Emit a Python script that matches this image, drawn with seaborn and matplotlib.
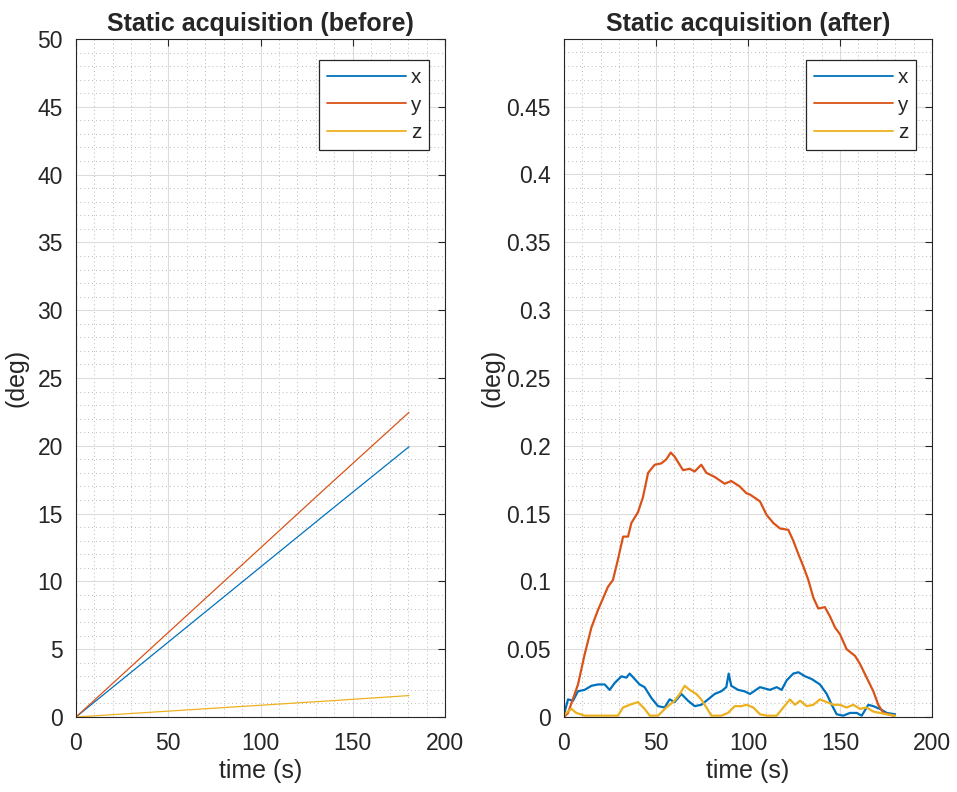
import numpy as np
import pandas as pd
import matplotlib
matplotlib.use("Agg")
import matplotlib.pyplot as plt
from matplotlib.ticker import MultipleLocator
import seaborn as sns

# ---------------- data ----------------
series_names = ["x", "y", "z"]
colors = ["#0072BD", "#D95319", "#EDB120"]

# before (linear drift)
before_t = [0, 45, 90, 135, 180.5]
before_x = [0, 4.97, 9.95, 14.93, 19.93]
before_y = [0, 5.61, 11.22, 16.84, 22.47]
before_z = [0, 0.39, 0.78, 1.17, 1.58]

# after (x)
after_x_t = [0, 0.4, 2.2, 4.9, 7.6, 11.2, 14.9, 18.5, 22.1, 24.8, 27.5, 31.2, 33.9, 35.7,
             38.4, 41.1, 43.8, 47.5, 51.1, 54.7, 57.4, 60.1, 63.8, 67.4, 71.0, 74.6,
             78.3, 81.9, 85.5, 88.2, 89.5, 90.9, 94.6, 98.0, 101.1, 106.5, 111.9, 115.6,
             118.3, 121.0, 124.6, 127.4, 131.0, 134.6, 139.1, 142.8, 145.5, 148.2,
             151.8, 155.4, 159.1, 161.8, 165.4, 168.1, 171.7, 175.4, 179.9]
after_x_v = [0, 0.004, 0.013, 0.012, 0.019, 0.020, 0.023, 0.024, 0.024, 0.020, 0.025, 0.030,
             0.029, 0.032, 0.028, 0.024, 0.022, 0.014, 0.008, 0.007, 0.013, 0.011, 0.017,
             0.012, 0.008, 0.009, 0.013, 0.017, 0.019, 0.022, 0.032, 0.023, 0.020, 0.019,
             0.017, 0.022, 0.020, 0.022, 0.020, 0.027, 0.032, 0.033, 0.030, 0.028, 0.024,
             0.017, 0.009, 0.002, 0.001, 0.003, 0.003, 0.001, 0.009, 0.008, 0.006, 0.003,
             0.002]

# after (y)
after_y_t = [0, 2.2, 7.6, 11.2, 14.9, 18.5, 23.9, 26.6, 29.3, 32.1, 34.8, 36.6, 40.2, 42.9,
             45.7, 49.3, 52.9, 55.6, 58.0, 60.1, 64.7, 68.3, 71.0, 74.6, 77.4, 81.9, 87.3,
             90.9, 95.5, 99.1, 101.1, 106.5, 110.1, 113.8, 117.4, 121.9, 124.6, 127.4,
             130.1, 132.8, 135.5, 138.2, 141.8, 144.6, 147.3, 150.0, 153.6, 158.2, 160.9,
             164.5, 168.1, 170.8, 173.6, 179.0]
after_y_v = [0, 0.003, 0.024, 0.046, 0.066, 0.079, 0.096, 0.101, 0.116, 0.133, 0.133, 0.143,
             0.151, 0.162, 0.180, 0.186, 0.187, 0.190, 0.195, 0.192, 0.182, 0.183, 0.181,
             0.186, 0.180, 0.177, 0.172, 0.174, 0.170, 0.165, 0.164, 0.159, 0.149, 0.143,
             0.139, 0.138, 0.130, 0.120, 0.111, 0.101, 0.088, 0.080, 0.081, 0.074, 0.066,
             0.061, 0.050, 0.045, 0.039, 0.029, 0.019, 0.009, 0.003, 0.001]

# after (z)
after_z_t = [0, 0.4, 4.0, 6.7, 11.2, 18.5, 29.3, 32.1, 35.7, 40.2, 43.8, 46.6, 51.1, 55.6,
             60.1, 62.9, 65.6, 68.3, 71.9, 74.6, 77.4, 80.1, 85.5, 89.1, 92.8, 96.4, 99.3,
             102.9, 106.5, 110.1, 115.6, 119.2, 122.8, 125.5, 128.3, 131.9, 135.5, 139.1,
             142.8, 146.4, 150.0, 153.6, 157.2, 160.9, 164.5, 168.1, 171.7, 175.4, 179.9]
after_z_v = [0, 0.002, 0.006, 0.003, 0.001, 0.001, 0.001, 0.007, 0.009, 0.011, 0.006, 0.001,
             0.001, 0.007, 0.012, 0.017, 0.023, 0.020, 0.017, 0.013, 0.007, 0.001, 0.001,
             0.003, 0.008, 0.008, 0.009, 0.007, 0.002, 0.001, 0.001, 0.007, 0.013, 0.009,
             0.012, 0.008, 0.009, 0.013, 0.011, 0.009, 0.009, 0.007, 0.009, 0.006, 0.007,
             0.004, 0.003, 0.002, 0.001]

titles = ["Static acquisition (before)", "Static acquisition (after)"]
xlabel = "time (s)"
ylabel = "(deg)"
x_ticks = [0, 50, 100, 150, 200]
left_y_ticks = [0, 5, 10, 15, 20, 25, 30, 35, 40, 45, 50]
right_y_ticks = [0, 0.05, 0.1, 0.15, 0.2, 0.25, 0.3, 0.35, 0.4, 0.45]
right_y_ticklabels = ["0", "0.05", "0.1", "0.15", "0.2", "0.25", "0.3", "0.35", "0.4", "0.45"]

# ---------------- build frames ----------------
df_before = pd.concat([
    pd.DataFrame({"t": before_t, "v": before_x, "axis": "x"}),
    pd.DataFrame({"t": before_t, "v": before_y, "axis": "y"}),
    pd.DataFrame({"t": before_t, "v": before_z, "axis": "z"}),
], ignore_index=True)
df_after = pd.concat([
    pd.DataFrame({"t": after_x_t, "v": after_x_v, "axis": "x"}),
    pd.DataFrame({"t": after_y_t, "v": after_y_v, "axis": "y"}),
    pd.DataFrame({"t": after_z_t, "v": after_z_v, "axis": "z"}),
], ignore_index=True)

sns.set_style("white")
plt.rcParams["font.family"] = ["Liberation Sans", "DejaVu Sans"]
txt = "#262626"

fig = plt.figure(figsize=(9.57, 7.92), dpi=100)
ax1 = fig.add_axes([76 / 957, 1 - 717 / 792, 369 / 957, 678 / 792])
ax2 = fig.add_axes([564 / 957, 1 - 717 / 792, 368 / 957, 678 / 792])

pal = dict(zip(series_names, colors))
sns.lineplot(data=df_before, x="t", y="v", hue="axis", palette=pal, ax=ax1,
             estimator=None, linewidth=0.9, legend=False)
sns.lineplot(data=df_after, x="t", y="v", hue="axis", palette=pal, ax=ax2,
             estimator=None, linewidth=1.6, legend=False)

def style(ax, title, ylim, yticks, ymin, ylabelpad, yticklabels=None):
    ax.set_xlim(0, 200)
    ax.set_ylim(*ylim)
    ax.set_xticks(x_ticks)
    ax.set_yticks(yticks)
    if yticklabels is not None:
        ax.set_yticklabels(yticklabels)
    ax.xaxis.set_minor_locator(MultipleLocator(10))
    ax.yaxis.set_minor_locator(MultipleLocator(ymin))
    ax.grid(True, which="major", color="#dcdcdc", linewidth=0.8, linestyle="-")
    ax.grid(True, which="minor", color="#b8b8b8", linewidth=0.7, linestyle=(0, (1, 3)))
    ax.set_axisbelow(True)
    ax.tick_params(which="major", direction="in", length=5, width=0.8, colors=txt,
                   labelsize=16.5, top=True, right=True)
    ax.tick_params(axis="x", which="major", pad=10.5)
    ax.tick_params(axis="y", which="major", pad=9.5)
    ax.tick_params(which="minor", length=0, top=True, right=True)
    for s in ax.spines.values():
        s.set_color(txt)
        s.set_linewidth(0.8)
    ax.set_title(title, fontsize=18, fontweight="bold", color=txt, pad=6)
    ax.set_xlabel(xlabel, fontsize=18, color=txt, labelpad=3)
    ax.set_ylabel(ylabel, fontsize=18, color=txt, labelpad=ylabelpad)
    handles = [plt.Line2D([], [], color=c, linewidth=1.3) for c in colors]
    leg = ax.legend(handles, series_names, loc="upper right", frameon=True, fancybox=False,
                    edgecolor=txt, framealpha=1, fontsize=14.9, handlelength=3.8,
                    handletextpad=0.25, labelspacing=0.42, borderpad=0.38,
                    borderaxespad=0, bbox_to_anchor=(0.957, 0.969))
    leg.get_frame().set_linewidth(0.9)
    for t in leg.get_texts():
        t.set_color(txt)

style(ax1, titles[0], (0, 50), left_y_ticks, 1, 6)
style(ax2, titles[1], (0, 0.4999), right_y_ticks, 0.01, 1, right_y_ticklabels)

fig.savefig("out.png", dpi=100)
